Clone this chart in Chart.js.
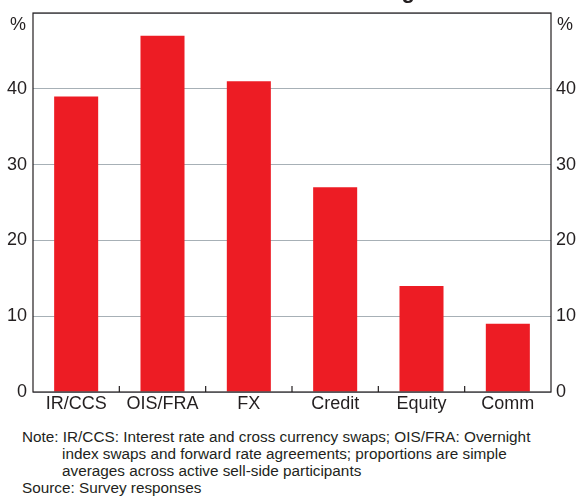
<!DOCTYPE html>
<html>
<head>
<meta charset="utf-8">
<script src="https://cdn.jsdelivr.net/npm/chart.js@4/dist/chart.umd.min.js"></script>
<style>
  body { margin: 0; background: #fff; font-family: Arial, "Liberation Sans", sans-serif; }
  #wrap { position: relative; width: 584px; height: 496px; overflow: hidden; }
  #box { position: absolute; left: 0; top: 0; width: 584px; height: 420px; }
  .note { position: absolute; left: 22px; font-size: 15.3px; color: #231f20; line-height: 17px; white-space: nowrap; }
</style>
</head>
<body>
<div id="wrap">
  <div id="box"><canvas id="chart"></canvas></div>
  <div class="note" style="top:428px;">Note: IR/CCS: Interest rate and cross currency swaps; OIS/FRA: Overnight</div>
  <div class="note" style="top:445px; left:62px;">index swaps and forward rate agreements; proportions are simple</div>
  <div class="note" style="top:462px; left:62px;">averages across active sell-side participants</div>
  <div class="note" style="top:479px;">Source: Survey responses</div>
</div>
<script>
// Catégories et valeurs (en %)
var categories = ['IR/CCS', 'OIS/FRA', 'FX', 'Credit', 'Equity', 'Comm'];
var shares = [39, 47, 41, 27, 14, 9];
var yTicks = [0, 10, 20, 30, 40, 50];

var textColor = '#231f20';
var tickFont = { family: 'Arial, "Liberation Sans", sans-serif', size: 18 };

// Cadre, graduations de l'axe X, unités "%"
var decorPlugin = {
    id: 'decor',
    afterDraw: function (chart) {
        var ctx = chart.ctx;
        var a = chart.chartArea;
        var x = chart.scales.x;
        ctx.save();
        ctx.strokeStyle = '#231f20';
        ctx.lineWidth = 1.2;
        ctx.strokeRect(a.left, a.top, a.right - a.left, a.bottom - a.top);
        // petites graduations entre les catégories
        for (var i = 1; i < categories.length; i++) {
            var px = (x.getPixelForValue(i - 1) + x.getPixelForValue(i)) / 2;
            ctx.beginPath();
            ctx.moveTo(px, a.bottom);
            ctx.lineTo(px, a.bottom - 6);
            ctx.stroke();
        }
        ctx.fillStyle = textColor;
        ctx.font = '18px Arial, "Liberation Sans", sans-serif';
        ctx.textBaseline = 'middle';
        ctx.textAlign = 'right';
        ctx.fillText('%', a.left - 7, a.top + 12);
        ctx.textAlign = 'left';
        ctx.fillText('%', a.right + 6, a.top + 12);
        // bas du titre (coupé en haut de l'image)
        ctx.font = 'bold 22px Arial, "Liberation Sans", sans-serif';
        ctx.textAlign = 'right';
        ctx.textBaseline = 'alphabetic';
        ctx.fillText('g', 415, -2);
        ctx.restore();
    }
};

var yCommon = {
    min: 0,
    max: 50,
    afterBuildTicks: function (axis) {
        axis.ticks = yTicks.map(function (v) { return { value: v }; });
    },
    border: { display: false },
    ticks: {
        color: textColor,
        font: tickFont,
        padding: 6,
        callback: function (v) { return v === 50 ? '' : v; }
    }
};

function fitY(axis) {
    axis.width = 33;
    axis.paddingTop = 0;
    axis.paddingBottom = 0;
}

new Chart(document.getElementById('chart'), {
    type: 'bar',
    data: {
        labels: categories,
        datasets: [{
            data: shares,
            backgroundColor: '#ed1c24',
            barPercentage: 0.51,
            categoryPercentage: 1.0
        }]
    },
    options: {
        responsive: true,
        maintainAspectRatio: false,
        animation: false,
        layout: { padding: { top: 13, left: 0, right: 0, bottom: 0 } },
        plugins: { legend: { display: false }, tooltip: { enabled: false } },
        scales: {
            x: {
                grid: { display: false, drawTicks: false },
                border: { display: false },
                ticks: { color: textColor, font: tickFont, padding: 1, maxRotation: 0 },
                afterFit: function (axis) { axis.height = 28; }
            },
            y: Object.assign({}, yCommon, {
                position: 'left',
                grid: { color: '#a7b0b6', lineWidth: 1, drawTicks: false },
                afterFit: fitY
            }),
            y2: Object.assign({}, yCommon, {
                position: 'right',
                grid: { display: false, drawTicks: false },
                ticks: Object.assign({}, yCommon.ticks, { padding: 5 }),
                afterFit: fitY
            })
        }
    },
    plugins: [decorPlugin]
});
</script>
</body>
</html>
